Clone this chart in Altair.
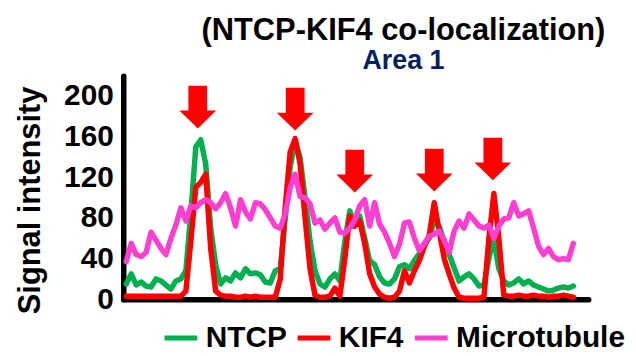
import altair as alt
import pandas as pd

# sample index along the line profile
positions = list(range(91))

ntcp = [15, 25, 14, 17, 13, 12, 20, 18, 14, 10, 18, 20, 28, 84, 150, 157, 133, 70, 34, 15,
        21, 18, 26, 21, 30, 25, 26, 24, 17, 16, 28, 30, 80, 130, 156, 139, 100, 57, 28, 15,
        12, 20, 25, 18, 57, 87, 72, 82, 60, 38, 34, 22, 16, 15, 20, 32, 34, 30, 38, 45,
        54, 60, 77, 72, 57, 44, 31, 18, 22, 25, 20, 13, 14, 40, 60, 30, 18, 14, 16, 20,
        15, 18, 14, 12, 10, 8, 9, 11, 12, 11, 13]

kif4 = [3, 3, 3, 3, 3, 3, 3, 3, 3, 3, 3, 3, 8, 57, 110, 115, 123, 50, 8, 4,
        3, 3, 2, 2, 3, 2, 3, 2, 2, 2, 2, 20, 90, 145, 158, 133, 80, 30, 4, 2,
        2, 3, 11, 3, 40, 82, 72, 77, 55, 25, 12, 5, 2, 1, 2, 8, 28, 16, 28, 38,
        52, 63, 95, 67, 40, 25, 11, 2, 1, 1, 1, 1, 2, 60, 104, 60, 4, 3, 3, 4,
        3, 3, 4, 3, 3, 2, 3, 3, 4, 3, 2]

microtubule = [37, 55, 44, 42, 46, 66, 58, 50, 44, 60, 73, 90, 77, 92, 90, 95, 98, 95, 89, 95,
               104, 90, 72, 98, 86, 79, 95, 94, 88, 80, 72, 70, 84, 110, 123, 101, 100, 94, 75, 78,
               69, 75, 80, 66, 65, 70, 78, 92, 98, 72, 95, 74, 66, 55, 42, 54, 75, 76, 60, 48,
               55, 62, 64, 67, 58, 46, 67, 77, 70, 84, 78, 72, 70, 73, 60, 72, 79, 80, 95, 82,
               84, 87, 70, 52, 44, 50, 42, 39, 40, 39, 55]

series_names = ["NTCP", "KIF4", "Microtubule"]
series_colors = ["#00B050", "#FF0000", "#FF3FD0"]

arrow_pos = [14.4, 34, 46, 62, 73.8]
arrow_val = [189, 187, 126, 127, 138]

y_ticks = [0, 40, 80, 120, 160, 200]

rows = []
for name, vals in zip(series_names, [ntcp, kif4, microtubule]):
    for p, v in zip(positions, vals):
        rows.append({"pos": p, "value": v, "series": name})
df = pd.DataFrame(rows)
arrows = pd.DataFrame({"pos": arrow_pos, "value": arrow_val})

FONT = "Liberation Sans"

x_scale = alt.Scale(domain=[-0.6, 93], nice=False, zero=False)
y_scale = alt.Scale(domain=[0, 220], nice=False)

color = alt.Color(
    "series:N",
    scale=alt.Scale(domain=series_names, range=series_colors),
    legend=alt.Legend(
        title=None,
        orient="none",
        legendX=39,
        legendY=245,
        direction="horizontal",
        symbolType="stroke",
        symbolSize=1089,
        symbolStrokeWidth=5,
        labelFont=FONT,
        labelFontSize=30,
        labelFontWeight="bold",
        labelColor="black",
        labelOffset=6,
        columnPadding=0,
        labelLimit=300,
    ),
)

x_enc = alt.X("pos:Q", scale=x_scale,
              axis=alt.Axis(labels=False, ticks=False, grid=False, title=None,
                            domainColor="black", domainWidth=5.5, domainCap="round"))
y_enc = alt.Y("value:Q", scale=y_scale,
              axis=alt.Axis(values=y_ticks, ticks=False, grid=False,
                            domainColor="black", domainWidth=5.5, domainCap="round",
                            labelFont=FONT, labelFontSize=30, labelFontWeight="bold",
                            labelColor="black", labelPadding=10,
                            title="Signal intensity", titleFont=FONT, titleFontSize=31,
                            titleFontWeight="bold", titleColor="black",
                            titleAngle=-90, titleX=-93, titleY=125,
                            titleAlign="center", titleBaseline="middle"))

layers = []
for name in series_names:
    layers.append(
        alt.Chart(df)
        .transform_filter(alt.datum.series == name)
        .mark_line(strokeWidth=5.5, strokeCap="round", strokeJoin="round")
        .encode(x=x_enc, y=y_enc, color=color)
    )

arrow_shape = "M -0.44 -1 L 0.44 -1 L 0.44 0.16 L 0.86 0.16 L 0 1 L -0.86 0.16 L -0.44 0.16 Z"
arrow_layer = alt.Chart(arrows).mark_point(
    shape=arrow_shape, filled=True, size=1849, color="#FF0000", opacity=1, strokeWidth=0
).encode(x=alt.X("pos:Q", scale=x_scale), y=alt.Y("value:Q", scale=y_scale))

chart = (
    alt.layer(*layers, arrow_layer)
    .properties(
        width=468,
        height=225,
        autosize=alt.AutoSizeParams(type="none"),
        padding={"left": 116, "top": 67, "right": 40, "bottom": 54},
        title=alt.TitleParams(
            text="(NTCP-KIF4 co-localization)",
            subtitle="Area 1",
            anchor="middle",
            dx=48,
            font=FONT,
            fontSize=31,
            fontWeight="bold",
            color="black",
            subtitleFont=FONT,
            subtitleFontSize=27,
            subtitleFontWeight="bold",
            subtitleColor="#002060",
            subtitlePadding=1,
            offset=1,
        ),
    )
    .configure_view(stroke=None)
)

chart.save("out.html", embed_options={"renderer": "svg", "actions": False})
